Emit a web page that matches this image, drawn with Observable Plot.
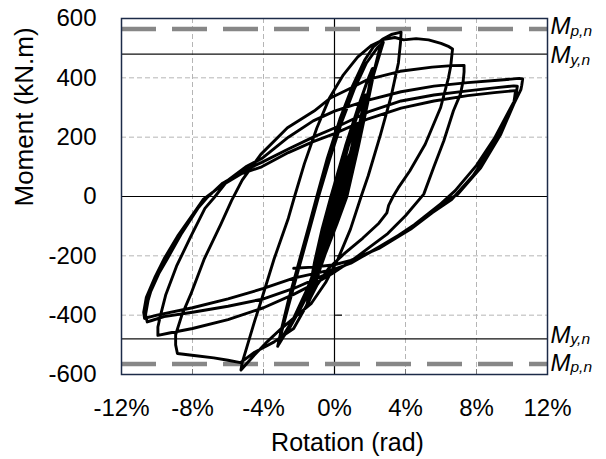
<!DOCTYPE html>
<html>
<head>
<meta charset="utf-8">
<script src="https://cdn.jsdelivr.net/npm/d3@7"></script>
<script src="https://cdn.jsdelivr.net/npm/@observablehq/plot@0.6"></script>
<style>
  html, body { margin: 0; padding: 0; background: #fff; }
  svg { display: block; }
</style>
</head>
<body>
<div id="chart"></div>
<script>
// ---------- data (rotation %, moment kN.m) ----------
const xTicks = [-12, -8, -4, 0, 4, 8, 12];
const yTicks = [-600, -400, -200, 0, 200, 400, 600];
const xGrid = [-8, -4, 4, 8];
const yGrid = [-400, -200, 200, 400];
const refValues = [565, 480, -480, -565];
const refSubs = ["p,n", "y,n", "y,n", "p,n"];
const refDashed = [565, -565];
const refSolid = [480, -480];

const elasticCycles = [
  [0,0],[0.3,60],[0.6,110],[0.88,145],[0.7,120],[0.4,70],[0.1,0],[-0.2,-70],[-0.5,-140],[-0.55,-145],
  [-0.4,-125],[-0.1,-70],[0.25,0],[0.55,70],[0.88,145],[0.72,125],[0.42,70],[0.1,0],[-0.22,-75],[-0.55,-145],
  [-0.4,-120],[-0.05,-60],[0.3,0],[0.65,85],[1.0,175],[1.25,240],[1.1,225],[0.8,175],[0.45,95],[0.05,0],
  [-0.35,-90],[-0.7,-180],[-0.85,-225],[-0.65,-190],[-0.3,-110],[0.05,-40],[0.32,0],[0.68,90],[1.02,180],[1.27,242],
  [1.1,222],[0.78,170],[0.42,90],[0.03,0],[-0.37,-95],[-0.72,-185],[-0.87,-228],
  [-0.7,-200],[-0.2,-120],[0.15,-55],[0.45,0],[0.95,115],[1.4,240],[1.72,340],[1.5,310],[1.1,240],[0.45,115],[-0.05,0],
  [-0.5,-100],[-0.9,-200],[-1.12,-275],[-1.17,-300],[-0.9,-260],[-0.5,-180],[0.05,-90],[0.48,0],[0.98,118],[1.42,243],
  [1.74,342],[1.52,312],[1.1,242],[0.47,117],[-0.03,0],[-0.48,-100],[-0.88,-200],[-1.1,-275],[-1.19,-302],
  [-0.9,-250],[-0.4,-160],[0.15,-80],[0.6,0],[1.2,140],[1.72,290],[1.98,380],[2.12,430],[1.85,390],[1.38,310],
  [0.62,170],[-0.2,0],[-0.7,-110],[-1.12,-220],[-1.4,-310],[-1.55,-370],[-1.2,-320],[-0.75,-230],[-0.05,-110],[0.6,0],
  [1.2,135],[1.72,285],[2.0,382],[2.15,432],[1.87,392],[1.4,312],[0.65,172],[-0.18,0],[-0.68,-110],[-1.1,-222],
  [-1.4,-315],[-1.57,-372]
];
const cycle3pct = [
  [-1.2,-310],[-0.5,-190],[0.15,-90],[0.7,0],[1.35,170],[1.92,330],[2.3,440],[2.55,500],[2.7,515],
  [2.5,480],[2.1,400],[1.5,260],[0.85,120],[0.35,0],[-0.15,-110],[-0.65,-210],[-1.25,-300],[-1.85,-370],[-2.5,-440],[-2.9,-475],[-3.15,-500],
  [-2.95,-450],[-2.6,-370],[-2.0,-240],[-1.4,-110],[-0.9,0],[-0.3,120],[0.4,250],[1.1,360],[1.8,450],[2.4,500],[2.75,520],
  [2.6,490],[2.1,390],[1.4,240],[0.7,100],[0.2,0],[-0.4,-120],[-1.0,-230],[-1.6,-320],[-2.3,-410],[-2.9,-470],[-3.2,-505]
];
const cycle4pct = [
  [-3.0,-450],[-2.6,-350],[-2.0,-220],[-1.4,-90],[-1.0,0],[-0.4,130],[0.3,260],[1.0,370],[1.7,460],[2.2,505],[2.7,530],[3.2,546],[3.75,554],
  [3.72,520],[3.6,450],[3.2,340],[2.6,210],[1.9,70],[1.5,0],[0.9,-110],[0.2,-210],[-0.5,-290],[-1.3,-360],[-2.1,-400],[-3.0,-445],[-3.8,-490],[-4.6,-540],[-5.27,-585],
  [-5.2,-560],[-4.9,-500],[-4.5,-420],[-4.17,-359],[-3.4,-210],[-2.6,-73],[-2.25,0],[-1.7,110],[-1.0,230],[-0.3,330],[0.5,410],[1.3,470],[2.1,510],[2.8,530],[3.4,536],[3.9,528]
];
const cycle7a = [
  [4.6,532],[5.3,528],[6.0,516],[6.45,505],[6.65,497],
  [6.6,470],[6.55,440],[6.42,400],[5.98,300],[5.11,176],[4.24,86],[3.59,29],[3.3,0],[3.05,-30],[2.95,-55],[2.5,-90],[1.6,-140],[0.6,-190],
  [-0.3,-240],[-1.0,-300],[-1.6,-370],[-2.3,-445],[-3.4,-490],[-4.5,-525],[-5.3,-560],[-6.0,-552],[-6.8,-544],[-7.8,-537],[-8.85,-529],
  [-8.95,-500],[-8.95,-466],[-8.6,-400],[-8.1,-330],[-7.35,-212],[-6.4,-93],[-5.8,-14],[-5.2,55],[-4.15,142],[-2.65,232],[-1.15,288],[-0.2,333],
  [0.9,365],[1.9,395],[3.7,422],[5.5,436],[6.6,441],[7.3,442]
];
const cycle7b = [
  [7.3,420],[7.25,390],[7.1,346],[6.7,289],[6.16,188],[5.6,100],[5.03,8],[4.0,-65],[3.0,-125],[2.0,-170],[1.0,-215],[0,-255],
  [-1.0,-290],[-2.3,-330],[-4,-375],[-6,-415],[-8,-445],[-9.3,-460],[-9.95,-468],
  [-9.95,-440],[-9.8,-400],[-9.5,-330],[-8.9,-235],[-8.1,-135],[-7.3,-40],[-6.8,-5],[-6.0,55],[-5.0,100],[-4.1,128],[-2.6,200],[-1.2,255],
  [0,288],[1.9,325],[3.75,353],[5.6,372],[7.5,384],[9.2,392],[10.4,398],[10.6,396]
];
const cycle10a = [
  [10.55,375],[10.5,360],[10.1,311],[9.37,210],[8.24,97],[6.93,7],[5.98,-25],[4.5,-95],[3.0,-155],[1.5,-205],[0,-250],
  [-2.3,-310],[-4,-345],[-6,-370],[-8,-390],[-9.6,-405],[-10.3,-418],[-10.55,-423],
  [-10.65,-400],[-10.5,-350],[-10.35,-320],[-9.9,-260],[-9.4,-208],[-8.65,-128],[-7.7,-40],[-7.2,-5],[-6.3,45],[-5.0,90],[-4.1,115],[-2.6,160],[-1.2,200],
  [0,231],[1.9,285],[3.75,322],[5.6,342],[7.5,356],[9.0,366],[10.1,373],[10.3,372]
];
const cycle10b = [
  [10.25,350],[10.2,330],[9.8,285],[9.0,195],[8.0,105],[6.8,20],[5.8,-35],[4.3,-106],[2.5,-170],[0.92,-225],[0,-245],
  [-2.3,-275],[-4,-310],[-6,-345],[-8,-375],[-10,-400],[-10.7,-411],
  [-10.75,-390],[-10.6,-340],[-10.1,-270],[-9.6,-210],[-8.8,-130],[-7.8,-45],[-7.4,-10],[-6.4,35],[-5.2,78],[-4.1,100],[-2.6,148],[-1.2,185],
  [0,212],[1.9,262],[3.75,298],[5.6,322],[7.5,340],[9.0,350],[10.2,357]
];
const cycle10c = [
  [10.15,335],[10.1,315],[9.6,250],[8.8,160],[7.8,70],[6.6,-10],[5.5,-55],[4.3,-110],[2.5,-175],[0.92,-215],[0,-230],[-1.2,-238],[-2.3,-242]
];

const history = [].concat(elasticCycles, cycle3pct, cycle4pct, cycle7a, cycle7b, cycle10a, cycle10b, cycle10c);

// ---------- layout ----------
const W = 606, H = 459;
const mL = 121, mR = 59, mT = 18, mB = 85;
const plotW = W - mL - mR, plotH = H - mT - mB;
const zeroInset = plotW / 2;  // x = 0 sits mid-frame
const font = "'Liberation Sans', Arial, Helvetica, sans-serif";
const labelDy = [5.6, 9.3, 4.3, 7.0];

const refLabelMarks = refValues.flatMap((v, i) => [
  Plot.text([v], {y: d => d, text: () => "M", frameAnchor: "right", textAnchor: "start",
    lineAnchor: "bottom", dx: 3, dy: labelDy[i], fontSize: 24, fontStyle: "italic", fill: "#000"}),
  Plot.text([v], {y: d => d, text: () => refSubs[i], frameAnchor: "right", textAnchor: "start",
    lineAnchor: "bottom", dx: 23, dy: labelDy[i] + 1.2, fontSize: 15.5, fontStyle: "italic", fill: "#000"})
]);

const chart = Plot.plot({
  width: W, height: H,
  marginLeft: mL, marginRight: mR, marginTop: mT, marginBottom: mB,
  x: {domain: [-12, 12]},
  y: {domain: [-600, 600]},
  style: {fontFamily: font, fontSize: "24px", color: "#000", background: "#fff", overflow: "visible"},
  marks: [
    Plot.gridX(xGrid, {stroke: "#b5b5b5", strokeOpacity: 1, strokeWidth: 1, strokeDasharray: "5,3"}),
    Plot.gridY(yGrid, {stroke: "#b5b5b5", strokeOpacity: 1, strokeWidth: 1, strokeDasharray: "5,3"}),
    Plot.ruleX([0], {stroke: "#000", strokeWidth: 1.2}),
    Plot.ruleY([0], {stroke: "#000", strokeWidth: 1.2}),
    Plot.tickY(yGrid, {y: d => d, stroke: "#000", strokeWidth: 1.2, insetLeft: zeroInset, insetRight: plotW - zeroInset - 8}),
    Plot.tickX(xGrid, {x: d => d, stroke: "#777", strokeWidth: 1, insetTop: plotH - 5}),
    Plot.ruleY(refSolid, {y: d => d, stroke: "#111", strokeWidth: 1.3}),
    Plot.ruleY(refDashed, {y: d => d, stroke: "#878787", strokeWidth: 4.5, strokeDasharray: "35,16"}),
    Plot.line(history, {x: d => d[0], y: d => d[1], stroke: "#000", strokeWidth: 2.9,
      strokeLinejoin: "round", strokeLinecap: "round"}),
    Plot.frame({stroke: "#1c2b48", strokeWidth: 1.5}),
    Plot.axisX(xTicks, {tickSize: 0, tickPadding: 24, tickFormat: d => d + "%", label: null, fontSize: 24}),
    Plot.axisY(yTicks, {tickSize: 0, tickPadding: 25, tickFormat: d => String(d), label: null, fontSize: 24}),
    Plot.text(["Rotation (rad)"], {text: d => d, frameAnchor: "bottom", lineAnchor: "bottom",
      dx: 13, dy: 76, fontSize: 25, fill: "#000"}),
    Plot.text(["Moment (kN.m)"], {text: d => d, frameAnchor: "left", rotate: -90,
      dx: -97, dy: 10, fontSize: 26, fill: "#000"}),
    ...refLabelMarks
  ]
});
document.getElementById("chart").appendChild(chart);
</script>
</body>
</html>
